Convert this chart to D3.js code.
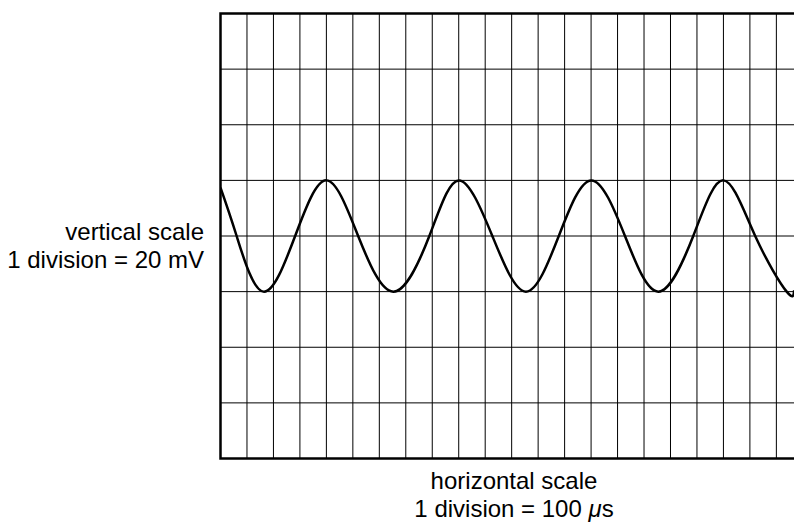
<!DOCTYPE html>
<html>
<head>
<meta charset="utf-8">
<script src="https://cdn.jsdelivr.net/npm/d3@7"></script>
<style>
	body { margin: 0; background: #fff; }
	svg { display: block; }
	text { font-family: "Liberation Sans", Arial, sans-serif; fill: #000; }
</style>
</head>
<body>
<div id="scope"></div>
<script>
var width = 794, height = 522;

// scope screen: 22 horizontal divisions (right part runs off the page), 8 vertical
var xDivisions = d3.range(0, 23);      // 100 us each
var yDivisions = d3.range(-4, 5);      // 20 mV each
var usPerDiv = 100, mvPerDiv = 20;

// trace: time in us, voltage in mV (0 = centre line)
var traceTime  = [0, 61, 162, 282, 400, 520, 653, 789, 901, 1027, 1154, 1278, 1401, 1528, 1654, 1786, 1900, 2020, 2139, 2167];
var traceVolts = [17.4, 0, -20, 0, 20, 0, -20, 0, 20, 0, -20, 0, 20, 0, -20, 0, 20, 0, -20, -19.5];

var vLabel = ["vertical scale", "1 division = 20 mV"];
var hLabel = ["horizontal scale", "1 division = 100 "];

var x = d3.scaleLinear().domain([0, 22 * usPerDiv]).range([220.5, 220.5 + 22 * 26.47]);
var y = d3.scaleLinear().domain([-4 * mvPerDiv, 4 * mvPerDiv]).range([458.5, 13.5]);

var svg = d3.select("#scope").append("svg")
	.attr("width", width)
	.attr("height", height);

var grid = svg.append("g");

grid.selectAll("line.v")
	.data(xDivisions.slice(1, -1))
	.enter()
	.append("line")
	.attr("class", "v")
	.attr("x1", function(d){ return x(d * usPerDiv); })
	.attr("x2", function(d){ return x(d * usPerDiv); })
	.attr("y1", y(4 * mvPerDiv))
	.attr("y2", y(-4 * mvPerDiv))
	.attr("stroke", "#000")
	.attr("stroke-width", 1);

grid.selectAll("line.h")
	.data(yDivisions.slice(1, -1))
	.enter()
	.append("line")
	.attr("class", "h")
	.attr("x1", x(0))
	.attr("x2", x(22 * usPerDiv))
	.attr("y1", function(d){ return y(d * mvPerDiv); })
	.attr("y2", function(d){ return y(d * mvPerDiv); })
	.attr("stroke", "#000")
	.attr("stroke-width", 1);

// frame (its right side is beyond the page edge)
grid.append("rect")
	.attr("x", x(0))
	.attr("y", y(4 * mvPerDiv))
	.attr("width", x(22 * usPerDiv) - x(0))
	.attr("height", y(-4 * mvPerDiv) - y(4 * mvPerDiv))
	.attr("fill", "none")
	.attr("stroke", "#000")
	.attr("stroke-width", 2.5);

svg.append("clipPath")
	.attr("id", "screen")
	.append("rect")
	.attr("x", x(0))
	.attr("y", y(4 * mvPerDiv))
	.attr("width", x(22 * usPerDiv) - x(0))
	.attr("height", y(-4 * mvPerDiv) - y(4 * mvPerDiv));

var line = d3.line()
	.x(function(d){ return x(d[0]); })
	.y(function(d){ return y(d[1]); })
	.curve(d3.curveNatural);

svg.append("path")
	.datum(d3.zip(traceTime, traceVolts))
	.attr("clip-path", "url(#screen)")
	.attr("d", line)
	.attr("fill", "none")
	.attr("stroke", "#000")
	.attr("stroke-width", 2.5);

// labels
svg.selectAll("text.vlabel")
	.data(vLabel)
	.enter()
	.append("text")
	.attr("class", "vlabel")
	.attr("x", 204)
	.attr("y", function(d, i){ return 240 + i * 27.5; })
	.attr("text-anchor", "end")
	.style("font-size", "24px")
	.text(function(d){ return d; });

var hText = svg.selectAll("text.hlabel")
	.data(hLabel)
	.enter()
	.append("text")
	.attr("class", "hlabel")
	.attr("x", 514)
	.attr("y", function(d, i){ return 489 + i * 28; })
	.attr("text-anchor", "middle")
	.style("font-size", "24px");

hText.append("tspan").text(function(d){ return d; });
hText.filter(function(d, i){ return i == 1; })
	.append("tspan").style("font-style", "italic").text("\u03bc");
hText.filter(function(d, i){ return i == 1; })
	.append("tspan").text("s");
</script>
</body>
</html>
